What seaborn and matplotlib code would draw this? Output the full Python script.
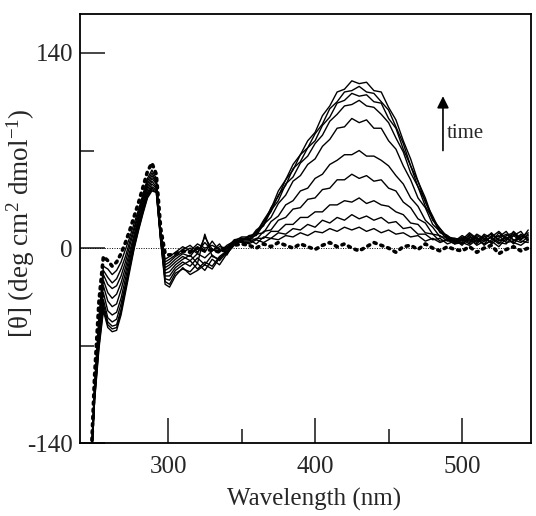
import matplotlib
matplotlib.use("Agg")
import matplotlib.pyplot as plt
import seaborn as sns
import pandas as pd
from matplotlib.ticker import FixedLocator

# ---------------- data ----------------
wavelength = [248, 250, 253, 256, 259, 262, 265, 268, 271, 274, 277, 280, 283, 286, 289, 292, 295, 298, 301,
              305, 310, 315, 320, 325, 330, 335, 340, 345, 350,
              355, 360, 365, 370, 375, 380, 385, 390, 395, 400, 405, 410, 415, 420, 425, 430, 435, 440, 445, 450,
              455, 460, 465, 470, 475, 480, 485, 490, 495,
              500, 505, 510, 515, 520, 525, 530, 535, 540, 545]

# initial spectrum (dotted)
cd_t0 = [-143, -92, -38, -6, -9, -13, -10, -4, 4, 13, 23, 33, 44, 55, 61, 53, 14, -4, -5,
         -4, -2, -3, 0, -2, -1, -3, 0, 2, 3,
         2, 0, 3, 1, 4, 2, 0, 3, 1, -1, 2, 4, 1, 3, 0, -2, 1, 4, 2, 0,
         -3, 1, 2, -1, 3, 0, -2, 1, -1,
         -2, 1, -3, 0, 2, -4, -1, 1, -2, 0]
cd_t1 = [-144, -98, -50, -13, -15, -19, -16, -10, -1, 8, 18, 28, 39, 50, 56, 50, 12, -8, -6,
         -3, 1, -2, 3, 0, 2, -1, 1, 4, 5,
         3, 6, 4, 7, 6, 9, 8, 11, 9, 12, 11, 14, 12, 15, 13, 15, 12, 14, 11, 13,
         10, 11, 8, 9, 5, 7, 4, 6, 3,
         4, 2, 6, 3, 5, 1, 7, 4, 2, 6]
cd_t2 = [-145, -100, -52, -16, -21, -25, -22, -15, -6, 5, 15, 26, 37, 48, 54, 48, 11, -10, -8,
         -5, -1, 2, -3, 4, -2, 1, 0, 3, 6,
         6, 3, 8, 7, 11, 10, 14, 13, 17, 15, 20, 18, 22, 20, 24, 21, 23, 20, 22, 18,
         19, 14, 15, 10, 10, 6, 7, 3, 5,
         3, 7, 2, 5, 8, 4, 3, 9, 5, 4]
cd_t3 = [-146, -102, -55, -19, -26, -29, -27, -20, -10, 2, 13, 24, 35, 46, 52, 47, 10, -12, -10,
         -6, -3, 0, -4, 8, -1, -3, 2, 5, 4,
         4, 7, 7, 12, 12, 17, 17, 22, 22, 26, 26, 31, 31, 34, 33, 36, 32, 34, 31, 30,
         26, 24, 18, 17, 11, 10, 5, 6, 3,
         6, 3, 8, 2, 6, 9, 4, 5, 10, 7]
cd_t4 = [-147, -104, -58, -23, -32, -36, -33, -25, -14, -2, 10, 22, 33, 44, 50, 46, 9, -14, -12,
         -8, -4, -6, 1, -3, 5, -2, 0, 6, 7,
         7, 6, 12, 13, 20, 22, 28, 29, 35, 36, 42, 43, 49, 49, 53, 50, 52, 48, 49, 43,
         41, 33, 29, 21, 18, 10, 9, 5, 6,
         2, 8, 5, 9, 3, 7, 10, 6, 4, 8]
cd_t5 = [-148, -105, -60, -27, -38, -42, -40, -30, -18, -5, 8, 20, 31, 42, 48, 44, 8, -16, -14,
         -10, -6, -9, -4, -7, -2, 3, -5, 4, 5,
         5, 10, 11, 19, 23, 31, 34, 41, 43, 50, 53, 60, 63, 67, 67, 70, 66, 66, 63, 59,
         52, 46, 36, 30, 20, 15, 8, 8, 4,
         7, 4, 9, 6, 11, 5, 8, 3, 9, 6]
cd_t6 = [-149, -106, -63, -32, -45, -48, -46, -36, -22, -8, 6, 18, 29, 40, 46, 43, 7, -18, -17,
         -12, -8, -5, -11, 10, -6, -8, -1, 5, 6,
         8, 9, 17, 22, 32, 38, 48, 52, 60, 64, 73, 78, 86, 87, 93, 90, 92, 86, 86, 77,
         71, 59, 49, 36, 29, 17, 12, 6, 7,
         5, 9, 4, 10, 7, 3, 9, 11, 6, 10]
cd_t7 = [-150, -107, -66, -37, -50, -53, -51, -40, -26, -11, 4, 16, 28, 39, 44, 42, 6, -20, -20,
         -14, -10, -13, -7, -12, -5, -9, -3, 3, 7,
         6, 12, 16, 27, 34, 46, 51, 61, 66, 75, 81, 91, 96, 102, 103, 106, 102, 101, 96, 90,
         79, 69, 54, 44, 30, 21, 11, 9, 4,
         8, 5, 10, 7, 4, 11, 6, 9, 12, 5]
cd_t8 = [-150, -108, -68, -40, -53, -56, -55, -44, -28, -13, 2, 15, 27, 38, 43, 41, 6, -22, -23,
         -16, -12, -9, -15, -10, -13, -6, -2, 4, 5,
         9, 10, 19, 26, 38, 45, 57, 62, 72, 77, 88, 94, 104, 106, 111, 109, 110, 105, 104, 93,
         86, 71, 59, 44, 34, 20, 14, 7, 6,
         4, 10, 6, 3, 9, 8, 12, 5, 8, 11]
cd_t9 = [-151, -109, -70, -43, -55, -58, -57, -46, -30, -14, 1, 14, 26, 37, 42, 40, 5, -24, -26,
         -18, -15, -17, -11, -16, -8, -12, -4, 2, 6,
         6, 13, 17, 29, 37, 49, 56, 67, 72, 82, 89, 100, 105, 112, 113, 116, 112, 111, 105, 99,
         87, 75, 59, 48, 33, 23, 12, 9, 5,
         9, 6, 3, 8, 10, 6, 5, 12, 7, 9]
cd_t10 = [-152, -110, -72, -45, -57, -60, -59, -48, -32, -16, 0, 13, 25, 36, 41, 40, 5, -26, -28,
          -20, -14, -19, -16, -12, -15, -7, -3, 5, 8,
          8, 11, 20, 28, 41, 49, 60, 67, 77, 83, 95, 102, 112, 114, 120, 118, 119, 113, 112, 101,
          92, 77, 64, 48, 36, 21, 14, 8, 7,
          6, 11, 7, 5, 8, 12, 7, 10, 6, 13]

later_spectra = [cd_t1, cd_t2, cd_t3, cd_t4, cd_t5, cd_t6, cd_t7, cd_t8, cd_t9, cd_t10]

x_major = [300, 400, 500]
x_minor = [350, 450]
y_major = [-140, 0, 140]
y_minor = [-70, 70]

# ---------------- figure ----------------
sns.set_style("ticks")
plt.rcParams["font.family"] = ["Liberation Serif", "DejaVu Serif"]
plt.rcParams["mathtext.fontset"] = "custom"
plt.rcParams["mathtext.rm"] = "Liberation Serif"
plt.rcParams["mathtext.it"] = "Liberation Serif:italic"
plt.rcParams["mathtext.bf"] = "Liberation Serif:bold"

fig = plt.figure(figsize=(5.36, 5.16), dpi=100)
ax = fig.add_axes([0.149, 0.141, 0.842, 0.832])

rows = []
for i, s in enumerate(later_spectra):
    for w, v in zip(wavelength, s):
        rows.append({"wl": w, "cd": v, "run": i})
df_later = pd.DataFrame(rows)
df_t0 = pd.DataFrame({"wl": wavelength, "cd": cd_t0})

ax.axhline(0, color="black", lw=0.7, ls=(0, (1, 1.5)), zorder=1)

sns.lineplot(data=df_later, x="wl", y="cd", units="run", estimator=None,
             color="black", lw=1.0, ax=ax, sort=False, zorder=2)
sns.lineplot(data=df_t0, x="wl", y="cd", color="black", lw=2.6,
             ax=ax, sort=False, zorder=3)
ax.lines[-1].set_linestyle((0, (0.6, 1.4)))
ax.lines[-1].set_dash_capstyle("round")

ax.set_xlim(240, 547)
ax.set_ylim(-140, 168)

ax.xaxis.set_major_locator(FixedLocator(x_major))
ax.xaxis.set_minor_locator(FixedLocator(x_minor))
ax.yaxis.set_major_locator(FixedLocator(y_major))
ax.yaxis.set_minor_locator(FixedLocator(y_minor))
ax.set_yticklabels([str(v) for v in y_major])

ax.tick_params(axis="both", which="major", direction="in", length=18, width=1.2,
               labelsize=18, top=False, right=False)
ax.tick_params(axis="x", which="major", pad=9)
ax.tick_params(axis="y", which="major", pad=5)
ax.tick_params(axis="both", which="minor", direction="in", length=10, width=1.2,
               top=False, right=False)
for sp in ax.spines.values():
    sp.set_visible(True)
    sp.set_linewidth(1.3)
    sp.set_color("black")

ax.set_xlabel("Wavelength (nm)", fontsize=18)
ax.set_ylabel("[θ] (deg cm$^{2}$ dmol$^{-1}$)", fontsize=19.5)
ax.xaxis.set_label_coords(0.52, -0.104)
ax.yaxis.set_label_coords(-0.094, 0.513)

ax.annotate("", xy=(487, 111), xytext=(487, 68),
            arrowprops=dict(arrowstyle="-|>,head_length=0.7,head_width=0.35",
                            color="black", lw=1.2))
ax.text(489.5, 82, "time", fontsize=15, va="center", ha="left")

fig.savefig("out.png", dpi=100)
